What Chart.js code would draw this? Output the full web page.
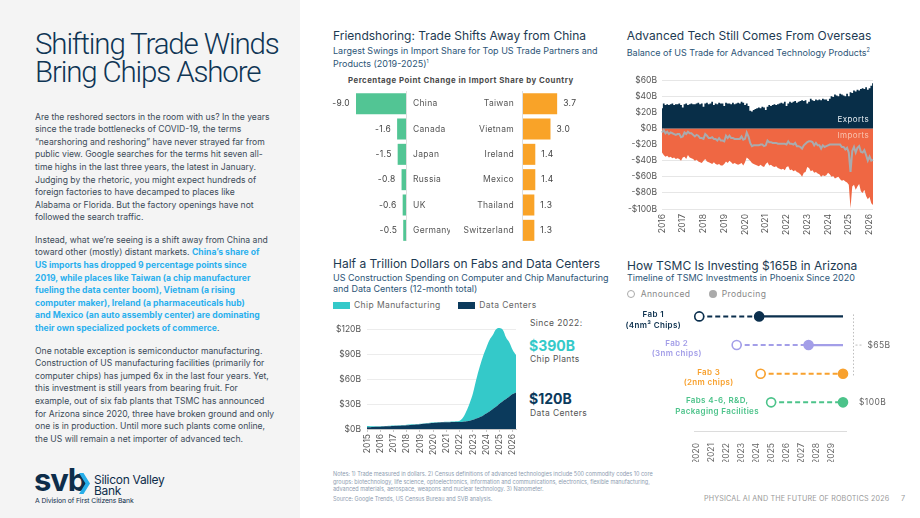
<!DOCTYPE html>
<html lang="en">
<head>
<meta charset="UTF-8">
<title>Shifting Trade Winds Bring Chips Ashore</title>
<script src="https://cdn.jsdelivr.net/npm/chart.js@4"></script>
<style>
    body { margin: 0; font-family: Inter, 'Noto Sans', sans-serif; }
    #page { position: relative; width: 920px; height: 518px; overflow: hidden; background: #fff; }
    #side { position: absolute; left: 0; top: 0; width: 300px; height: 518px; background: #f4f4f4; }
    .abs { position: absolute; white-space: nowrap; }
    .bigtitle { left: 35px; top: 30px; font-family: Roboto, Inter, sans-serif; font-size: 29.5px; line-height: 28.3px; font-weight: 300; color: #0f3554; letter-spacing: -1.15px; }
    .para { left: 35px; font-size: 8.6px; line-height: 12.6px; color: #3b4a58; }
    .para b { color: #2bb0ee; font-weight: 700; }
    .ctitle { font-size: 12px; line-height: 14px; color: #1d3a52; }
    .csub { font-size: 9px; line-height: 10.5px; color: #2c5577; }
    .small { font-size: 8.5px; line-height: 10px; color: #666; letter-spacing: 0.4px; }
    .notes { left: 333px; top: 471px; font-size: 5.5px; line-height: 7.6px; color: #8d9cb0; }
    canvas { position: absolute; }
</style>
</head>
<body>
<div id="page">
    <div id="side"></div>
    <div class="abs bigtitle">Shifting Trade Winds<br>Bring Chips Ashore</div>

    <div class="abs para" style="top:110.6px">Are the reshored sectors in the room with us? In the years<br>since the trade bottlenecks of COVID-19, the terms<br>“nearshoring and reshoring” have never strayed far from<br>public view. Google searches for the terms hit seven all-<br>time highs in the last three years, the latest in January.<br>Judging by the rhetoric, you might expect hundreds of<br>foreign factories to have decamped to places like<br>Alabama or Florida. But the factory openings have not<br>followed the search traffic.</div>
    <div class="abs para" style="top:233.9px">Instead, what we’re seeing is a shift away from China and<br>toward other (mostly) distant markets. <b>China’s share of</b><br><b>US imports has dropped 9 percentage points since</b><br><b>2019, while places like Taiwan (a chip manufacturer</b><br><b>fueling the data center boom), Vietnam (a rising</b><br><b>computer maker), Ireland (a pharmaceuticals hub)</b><br><b>and Mexico (an auto assembly center) are dominating</b><br><b>their own specialized pockets of commerce</b>.</div>
    <div class="abs para" style="top:344.6px">One notable exception is semiconductor manufacturing.<br>Construction of US manufacturing facilities (primarily for<br>computer chips) has jumped 6x in the last four years. Yet,<br>this investment is still years from bearing fruit. For<br>example, out of six fab plants that TSMC has announced<br>for Arizona since 2020, three have broken ground and only<br>one is in production. Until more such plants come online,<br>the US will remain a net importer of advanced tech.</div>

    <!-- logo -->
    <div class="abs" style="left:34px;top:463px;font-size:31px;line-height:34px;font-weight:700;color:#0d2d4a;letter-spacing:-1.2px">svb</div>
    <svg class="abs" style="left:79px;top:473px" width="11" height="21" viewBox="0 0 11 21"><polygon points="0,0 4.5,0 11,10.5 4.5,21 0,21 6.5,10.5" fill="#27aee9"/></svg>
    <div class="abs" style="left:94px;top:474px;font-size:12px;line-height:11px;color:#0d2d4a;letter-spacing:-0.3px">Silicon Valley<br>Bank</div>
    <div class="abs" style="left:35px;top:497px;font-size:6.8px;line-height:8px;color:#0d2d4a;letter-spacing:-0.1px">A Division of First Citizens Bank</div>

    <!-- chart 1 texts -->
    <div class="abs ctitle" style="left:333px;top:29.3px">Friendshoring: Trade Shifts Away from China</div>
    <div class="abs csub" style="left:333px;top:45.6px">Largest Swings in Import Share for Top US Trade Partners and<br>Products (2019-2025)<sup style="font-size:5px">1</sup></div>
    <div class="abs" style="left:348px;width:224px;top:74.5px;font-size:7.8px;line-height:10px;font-weight:700;color:#4a4a4a;letter-spacing:0.5px;text-align:center">Percentage Point Change in Import Share by Country</div>

    <!-- chart 2 texts -->
    <div class="abs ctitle" style="left:626.7px;top:29.3px">Advanced Tech Still Comes From Overseas</div>
    <div class="abs csub" style="left:626.7px;top:44.5px">Balance of US Trade for Advanced Technology Products<sup style="font-size:5.5px">2</sup></div>

    <!-- chart 3 texts -->
    <div class="abs ctitle" style="left:333px;top:256.9px">Half a Trillion Dollars on Fabs and Data Centers</div>
    <div class="abs csub" style="left:333px;top:273.2px">US Construction Spending on Computer and Chip Manufacturing<br>and Data Centers (12-month total)</div>
    <div class="abs" style="left:333px;top:301.7px;width:17px;height:7px;background:#34c9c9"></div>
    <div class="abs small" style="left:354px;top:299.7px">Chip Manufacturing</div>
    <div class="abs" style="left:458px;top:301.7px;width:17px;height:7px;background:#0b3a5c"></div>
    <div class="abs small" style="left:479.3px;top:299.7px">Data Centers</div>
    <div class="abs small" style="left:530px;top:317.6px;color:#555">Since 2022:</div>
    <div class="abs" style="left:529px;top:337.5px;font-size:14px;line-height:16px;font-weight:700;color:#34c9c9">$390B</div>
    <div class="abs small" style="left:530px;top:354.2px;color:#555">Chip Plants</div>
    <div class="abs" style="left:529px;top:390.8px;font-size:14px;line-height:16px;font-weight:700;color:#0b3a5c">$120B</div>
    <div class="abs small" style="left:530px;top:407.6px;color:#555">Data Centers</div>

    <!-- chart 4 texts -->
    <div class="abs ctitle" style="left:627px;top:258.6px">How TSMC Is Investing $165B in Arizona</div>
    <div class="abs csub" style="left:627px;top:273.1px">Timeline of TSMC Investments in Phoenix Since 2020</div>
    <div class="abs" style="left:626.5px;top:289.8px;width:6.5px;height:6.5px;border:1px solid #aaa;border-radius:50%;background:#fff"></div>
    <div class="abs small" style="left:640.7px;top:289px;color:#888">Announced</div>
    <div class="abs" style="left:708.5px;top:289.8px;width:8.5px;height:8.5px;border-radius:50%;background:#aaa"></div>
    <div class="abs small" style="left:721.7px;top:289px;color:#888">Producing</div>

    <!-- footer -->
    <div class="abs notes">Notes: 1) Trade measured in dollars. 2) Census definitions of advanced technologies include 500 commodity codes 10 core<br>groups: biotechnology, life science, optoelectronics, information and communications, electronics, flexible manufacturing,<br>advanced materials, aerospace, weapons and nuclear technology. 3) Nanometer.</div>
    <div class="abs notes" style="top:495.5px">Source: Google Trends, US Census Bureau and SVB analysis.</div>
    <div class="abs" style="left:704px;top:494px;font-size:7.2px;line-height:10px;color:#9a9a9a;letter-spacing:0.15px">PHYSICAL AI AND THE FUTURE OF ROBOTICS 2026</div>
    <div class="abs" style="left:901px;top:494px;font-size:7.2px;line-height:10px;color:#9a9a9a">7</div>

    <canvas id="lossChart" width="120" height="152" style="left:330px;top:91px"></canvas>
    <canvas id="gainChart" width="150" height="152" style="left:450px;top:91px"></canvas>
    <canvas id="tradeChart" width="260" height="170" style="left:620px;top:70px"></canvas>
    <canvas id="buildChart" width="195" height="148" style="left:330px;top:314px"></canvas>
    <canvas id="tsmcChart" width="300" height="166" style="left:620px;top:296px"></canvas>
</div>

<script>
    // ---- Friendshoring: change in import share, 2019-2025 (pp)
    const lossCountries = ['China', 'Canada', 'Japan', 'Russia', 'UK', 'Germany'];
    const lossValues = [-9.0, -1.6, -1.5, -0.8, -0.6, -0.5];
    const gainCountries = ['Taiwan', 'Vietnam', 'Ireland', 'Mexico', 'Thailand', 'Switzerland'];
    const gainValues = [3.7, 3.0, 1.4, 1.4, 1.3, 1.3];

    // ---- Advanced tech trade, monthly $B, Jan 2016 - Mar 2026
    const tradeYears = ['2016', '2017', '2018', '2019', '2020', '2021', '2022', '2023', '2024', '2025', '2026'];
    const exportsB = [
        25, 31, 29, 30, 29, 30, 31, 29, 30, 30, 31, 29,
        26, 30, 31, 29, 30, 31, 30, 30, 31, 32, 30, 31,
        27, 31, 32, 30, 31, 33, 29, 31, 30, 32, 31, 31,
        28, 32, 31, 31, 30, 32, 30, 31, 32, 31, 33, 32,
        29, 31, 28, 22, 21, 23, 24, 25, 26, 25, 27, 26,
        23, 27, 29, 28, 29, 30, 29, 30, 31, 32, 31, 33,
        28, 31, 33, 32, 33, 34, 32, 33, 34, 35, 34, 35,
        31, 33, 37, 35, 34, 36, 35, 36, 35, 37, 36, 36,
        34, 37, 40, 39, 42, 41, 40, 43, 42, 41, 40, 43,
        40, 45, 44, 47, 46, 48, 47, 49, 50, 49, 51, 48,
        50, 53, 56
    ];
    const importsB = [
        -30, -33, -35, -34, -36, -35, -37, -36, -38, -37, -38, -40,
        -36, -35, -38, -33, -36, -37, -38, -40, -39, -41, -42, -43,
        -40, -38, -41, -42, -43, -44, -42, -44, -45, -44, -46, -46,
        -44, -41, -43, -40, -42, -44, -43, -44, -45, -44, -43, -46,
        -42, -36, -38, -40, -43, -44, -45, -46, -47, -45, -47, -48,
        -44, -42, -46, -45, -47, -48, -47, -49, -50, -51, -50, -52,
        -48, -47, -52, -51, -53, -52, -54, -55, -57, -60, -55, -54,
        -48, -49, -53, -52, -55, -54, -56, -57, -60, -58, -59, -58,
        -55, -57, -60, -59, -62, -61, -60, -63, -65, -64, -66, -67,
        -70, -99, -72, -70, -76, -72, -69, -78, -80, -76, -84, -88,
        -85, -93, -95
    ];

    // ---- Construction spending, 12-month total $B, quarterly 2015 Q1 - 2026 Q2
    const buildYears = ['2015', '2016', '2017', '2018', '2019', '2020', '2021', '2022', '2023', '2024', '2025', '2026'];
    const dataCenterB = [
        2.0, 2.2, 2.4, 2.6,
        2.8, 3.0, 3.2, 3.4,
        3.6, 3.8, 4.0, 4.2,
        4.5, 4.8, 5.1, 5.4,
        5.8, 6.2, 6.6, 7.0,
        7.3, 7.6, 7.8, 8.0,
        8.1, 8.2, 8.3, 8.4,
        8.5, 8.8, 9.3, 10.0,
        11.0, 12.5, 14.2, 16.0,
        18.5, 21.0, 24.0, 27.0,
        30.5, 33.5, 36.0, 39.0,
        42.0, 44.0
    ];
    const chipPlantB = [
        1.5, 1.2, 0.9, 0.7,
        0.6, 0.5, 0.5, 0.5,
        0.5, 0.5, 0.5, 0.5,
        0.5, 0.5, 0.5, 0.5,
        0.5, 0.5, 0.5, 0.5,
        0.5, 0.5, 0.5, 0.5,
        0.5, 0.5, 0.6, 0.8,
        1.5, 5, 12, 21,
        32, 47, 60, 71,
        79, 86, 89, 93,
        91, 86, 74, 65,
        53, 45
    ];

    // ---- TSMC Phoenix timeline (decimal years)
    const fabNames = [['Fab 1', '(4nm³ Chips)'], ['Fab 2', '(3nm chips)'], ['Fab 3', '(2nm chips)'], ['Fabs 4-6, R&D,', 'Packaging Facilities']];
    const announcedYear = [2020.2, 2022.7, 2024.3, 2025.0];
    const producingYear = [2024.2, 2027.5, 2029.8, 2029.8];
    const timelineEnd = 2029.8;
    const timelineYears = [2020, 2021, 2022, 2023, 2024, 2025, 2026, 2027, 2028, 2029];

    const fabColors = ['#0b2f4d', '#a39ee8', '#f8a12e', '#4cc38a'];

    Chart.defaults.font.family = "Inter, 'Noto Sans', sans-serif";
    Chart.defaults.font.size = 8.5;
    Chart.defaults.color = '#555';
    Chart.defaults.animation = false;
    Chart.defaults.plugins.legend.display = false;
    Chart.defaults.plugins.tooltip.enabled = false;

    const tradeMonths = [];
    tradeYears.forEach(y => { for (let m = 1; m <= 12; m++) tradeMonths.push(y + '-' + m); });
    tradeMonths.length = exportsB.length;
    // net balance = exports + imports (imports are negative)
    const balanceB = exportsB.map((v, i) => v + importsB[i]);

    const buildQuarters = [];
    buildYears.forEach(y => { for (let q = 1; q <= 4; q++) buildQuarters.push(y + ' Q' + q); });
    buildQuarters.length = dataCenterB.length;

    // labels + values next to the bars, and the zero line
    const barText = {
        id: 'barText',
        afterDatasetsDraw(chart) {
            const { ctx, chartArea } = chart;
            const xs = chart.scales.x, ys = chart.scales.y;
            const x0 = Math.round(xs.getPixelForValue(0));
            ctx.save();
            ctx.strokeStyle = '#dedede';
            ctx.lineWidth = 1;
            ctx.beginPath();
            ctx.moveTo(x0 + 0.5, chartArea.top - 2);
            ctx.lineTo(x0 + 0.5, chartArea.bottom - 2);
            ctx.stroke();
            ctx.font = "8.5px Inter, 'Noto Sans', sans-serif";
            ctx.textBaseline = 'middle';
            ctx.letterSpacing = '0.3px';
            const vals = chart.data.datasets[0].data;
            vals.forEach((v, i) => {
                const y = ys.getPixelForValue(i);
                const xe = xs.getPixelForValue(v);
                const neg = v < 0;
                ctx.fillStyle = '#555';
                ctx.textAlign = neg ? 'left' : 'right';
                ctx.fillText(chart.data.labels[i], neg ? x0 + 7 : x0 - 8, y);
                ctx.fillStyle = '#444';
                ctx.textAlign = neg ? 'right' : 'left';
                ctx.fillText(v.toFixed(1), neg ? xe - 6 : xe + 6, y);
            });
            ctx.restore();
        }
    };

    function barChart(id, labels, values, color, min, max, pad) {
        return new Chart(document.getElementById(id), {
            type: 'bar',
            data: { labels: labels, datasets: [{ data: values, backgroundColor: color, barPercentage: 0.83, categoryPercentage: 1 }] },
            options: {
                indexAxis: 'y',
                responsive: false,
                layout: { padding: pad },
                scales: { x: { display: false, min: min, max: max }, y: { display: false } }
            },
            plugins: [barText]
        });
    }
    barChart('lossChart', lossCountries, lossValues, '#52c594', -9, 0, { left: 26, right: 44 });
    barChart('gainChart', gainCountries, gainValues, '#f9a328', 0, 4, { left: 72, right: 40 });

    // ---- trade balance chart
    const tradeText = {
        id: 'tradeText',
        afterDatasetsDraw(chart) {
            const { ctx, chartArea } = chart;
            const ys = chart.scales.y;
            ctx.save();
            ctx.font = "8px Inter, 'Noto Sans', sans-serif";
            ctx.letterSpacing = '0.4px';
            ctx.textAlign = 'right';
            ctx.textBaseline = 'middle';
            ctx.fillStyle = '#e6edf2';
            ctx.fillText('Exports', chartArea.right - 4, ys.getPixelForValue(11));
            ctx.fillStyle = '#f9c4b0';
            ctx.fillText('Imports', chartArea.right - 4, ys.getPixelForValue(-9.5));
            ctx.restore();
        }
    };

    new Chart(document.getElementById('tradeChart'), {
        type: 'line',
        data: {
            labels: tradeMonths,
            datasets: [
                { label: 'Balance', data: balanceB, borderColor: '#a9abae', borderWidth: 2, pointRadius: 0, fill: false },
                { label: 'Exports', data: exportsB, borderWidth: 0, backgroundColor: '#082e48', pointRadius: 0, fill: 'origin', stepped: 'middle' },
                { label: 'Imports', data: importsB, borderWidth: 0, backgroundColor: '#ef6743', pointRadius: 0, fill: 'origin' }
            ]
        },
        options: {
            responsive: false,
            layout: { padding: { top: 7, right: 7 } },
            scales: {
                x: {
                    grid: { display: false },
                    border: { display: false },
                    ticks: {
                        autoSkip: false, maxRotation: 90, minRotation: 90, padding: -3,
                        callback: (v, i) => i % 12 === 0 ? tradeMonths[i].slice(0, 4) : null
                    },
                    afterFit(s) { s.height = 31; }
                },
                y: {
                    min: -100, max: 60,
                    ticks: { stepSize: 20, padding: 5, callback: v => (v < 0 ? '-$' : '$') + Math.abs(v) + 'B' },
                    grid: { color: '#e6e6e6', drawTicks: false },
                    border: { display: false },
                    afterFit(s) { s.width = 42; }
                }
            }
        },
        plugins: [tradeText]
    });

    // ---- construction spending chart
    new Chart(document.getElementById('buildChart'), {
        type: 'line',
        data: {
            labels: buildQuarters,
            datasets: [
                { label: 'Data Centers', data: dataCenterB, backgroundColor: '#0b3a5c', borderWidth: 0, pointRadius: 0, fill: 'origin', tension: 0.4 },
                { label: 'Chip Manufacturing', data: chipPlantB, backgroundColor: '#34c9c9', borderWidth: 0, pointRadius: 0, fill: '-1', tension: 0.4 }
            ]
        },
        options: {
            responsive: false,
            layout: { padding: { top: 4, right: 5 } },
            scales: {
                x: {
                    grid: { display: true, drawOnChartArea: false, tickLength: 3, color: '#c8c8c8' },
                    border: { display: true, color: '#c8c8c8' },
                    ticks: {
                        autoSkip: false, maxRotation: 90, minRotation: 90, padding: 2,
                        callback: (v, i) => i % 4 === 0 ? buildQuarters[i].slice(0, 4) : null
                    },
                    afterFit(s) { s.height = 33; }
                },
                y: {
                    stacked: true, min: 0, max: 125,
                    afterBuildTicks(s) { s.ticks = [0, 30, 60, 90, 120].map(v => ({ value: v })); },
                    ticks: { padding: 6, callback: v => '$' + v + 'B' },
                    grid: { color: '#ececec', drawTicks: false },
                    border: { display: false },
                    afterFit(s) { s.width = 37; }
                }
            }
        }
    });

    // ---- TSMC timeline
    const fabText = {
        id: 'fabText',
        afterDraw(chart) {
            const { ctx, chartArea } = chart;
            const xs = chart.scales.x, ys = chart.scales.y;
            const labelGap = [46, 60, 52, 54];
            ctx.save();
            ctx.font = "600 8px Inter, 'Noto Sans', sans-serif";
            ctx.letterSpacing = '0.35px';
            ctx.textAlign = 'center';
            ctx.textBaseline = 'middle';
            fabNames.forEach((lines, i) => {
                const cx = xs.getPixelForValue(announcedYear[i]) - labelGap[i];
                const y = ys.getPixelForValue(i);
                ctx.fillStyle = fabColors[i];
                ctx.fillText(lines[0], cx, y - 1.5);
                ctx.fillText(lines[1], cx, y + 9);
            });
            // $65B bracket for fabs 1-3
            const bx = chartArea.right + 7.5;
            ctx.strokeStyle = '#bdbdbd';
            ctx.lineWidth = 1;
            ctx.setLineDash([1.5, 2]);
            ctx.beginPath();
            ctx.moveTo(bx, ys.getPixelForValue(0) - 2);
            ctx.lineTo(bx, ys.getPixelForValue(2) + 3.5);
            ctx.stroke();
            ctx.setLineDash([2, 2]);
            ctx.beginPath();
            ctx.moveTo(bx + 2, ys.getPixelForValue(1));
            ctx.lineTo(bx + 9, ys.getPixelForValue(1));
            ctx.stroke();
            ctx.setLineDash([]);
            ctx.font = "8.5px Inter, 'Noto Sans', sans-serif";
            ctx.letterSpacing = '0.4px';
            ctx.fillStyle = '#666';
            ctx.textAlign = 'left';
            ctx.fillText('$65B', bx + 14, ys.getPixelForValue(1));
            ctx.fillText('$100B', chartArea.right + 13, ys.getPixelForValue(3));
            ctx.restore();
        }
    };

    const tsmcSets = [];
    fabNames.forEach((n, i) => {
        tsmcSets.push({
            data: [{ x: announcedYear[i], y: i }, { x: producingYear[i], y: i }],
            showLine: false, clip: false, pointRadius: 4.5, pointBorderWidth: 1.6,
            pointBackgroundColor: ['#fff', fabColors[i]], pointBorderColor: fabColors[i]
        });
    });
    fabNames.forEach((n, i) => {
        tsmcSets.push({
            data: [{ x: announcedYear[i], y: i }, { x: producingYear[i], y: i }],
            showLine: true, borderColor: fabColors[i], borderWidth: 2, borderDash: [5, 3], pointRadius: 0
        });
        if (producingYear[i] < timelineEnd) {
            tsmcSets.push({
                data: [{ x: producingYear[i], y: i }, { x: timelineEnd, y: i }],
                showLine: true, borderColor: fabColors[i], borderWidth: 2.2, pointRadius: 0
            });
        }
    });

    new Chart(document.getElementById('tsmcChart'), {
        type: 'scatter',
        data: { datasets: tsmcSets },
        options: {
            responsive: false,
            layout: { padding: { left: 74, right: 74, top: 4 } },
            scales: {
                x: {
                    type: 'linear', min: 2019.85, max: 2030,
                    afterBuildTicks(s) { s.ticks = timelineYears.map(v => ({ value: v })); },
                    grid: { display: false },
                    border: { display: true, color: '#dcdcdc' },
                    ticks: { maxRotation: 90, minRotation: 90, padding: 4, color: '#666', callback: v => String(v) },
                    afterFit(s) { s.height = 31; }
                },
                y: { type: 'linear', min: -0.5, max: 4, reverse: true, display: false }
            }
        },
        plugins: [fabText]
    });
</script>
</body>
</html>
